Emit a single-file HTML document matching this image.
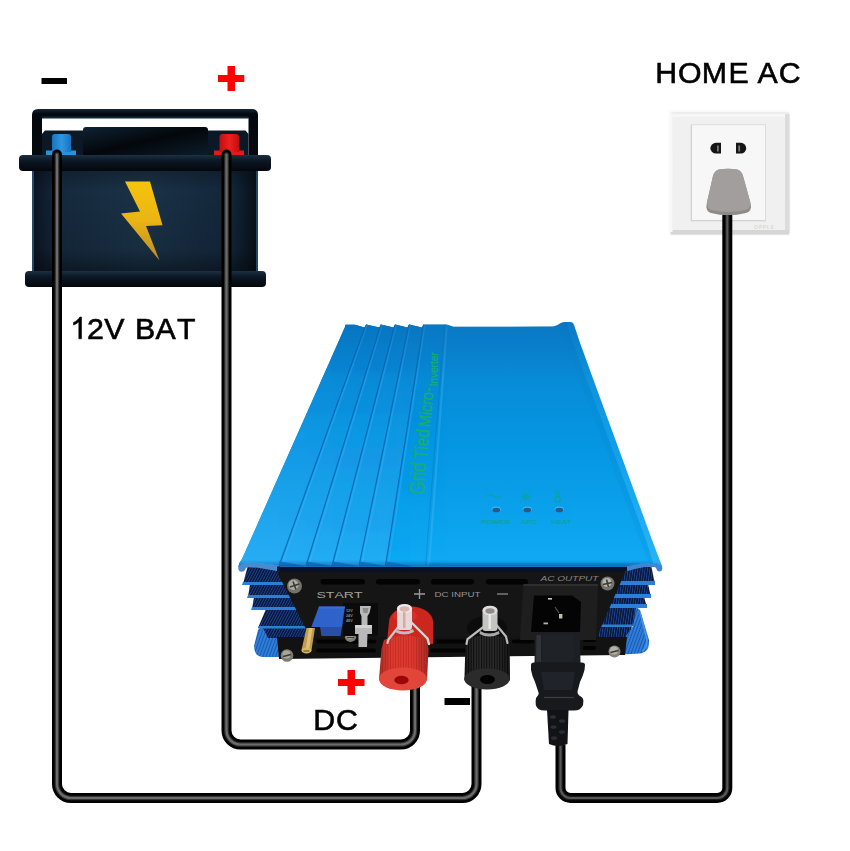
<!DOCTYPE html>
<html>
<head>
<meta charset="utf-8">
<title>Grid Tied Micro-Inverter Wiring</title>
<style>
html,body{margin:0;padding:0;background:#fff;}
body{width:850px;height:851px;overflow:hidden;font-family:"Liberation Sans",sans-serif;}
svg{display:block;}
text{font-family:"Liberation Sans",sans-serif;font-kerning:none;}
</style>
</head>
<body>
<svg width="850" height="851" viewBox="0 0 850 851">
<defs>
  <linearGradient id="batBody" x1="0" y1="0" x2="1" y2="0">
    <stop offset="0" stop-color="#0a1420"/>
    <stop offset="0.12" stop-color="#15293c"/>
    <stop offset="0.5" stop-color="#1a3247"/>
    <stop offset="0.88" stop-color="#13263a"/>
    <stop offset="1" stop-color="#070e17"/>
  </linearGradient>
  <linearGradient id="batShade" x1="0" y1="0" x2="0" y2="1">
    <stop offset="0" stop-color="#000" stop-opacity="0.35"/>
    <stop offset="0.25" stop-color="#000" stop-opacity="0"/>
    <stop offset="0.75" stop-color="#000" stop-opacity="0.1"/>
    <stop offset="1" stop-color="#000" stop-opacity="0.55"/>
  </linearGradient>
  <linearGradient id="flange" x1="0" y1="0" x2="0" y2="1">
    <stop offset="0" stop-color="#1b3145"/>
    <stop offset="0.35" stop-color="#0c1824"/>
    <stop offset="1" stop-color="#03070c"/>
  </linearGradient>
  <linearGradient id="bolt" x1="0" y1="0" x2="0" y2="1">
    <stop offset="0" stop-color="#f6c40c"/>
    <stop offset="0.5" stop-color="#eab414"/>
    <stop offset="1" stop-color="#b98a2a"/>
  </linearGradient>
  <linearGradient id="lid" x1="0" y1="0" x2="0" y2="1">
    <stop offset="0" stop-color="#0a82ce"/>
    <stop offset="0.5" stop-color="#0596e2"/>
    <stop offset="1" stop-color="#10aaf3"/>
  </linearGradient>
  <linearGradient id="strip" x1="0" y1="0" x2="0" y2="1">
    <stop offset="0" stop-color="#0a7eca"/>
    <stop offset="0.45" stop-color="#1198e3"/>
    <stop offset="1" stop-color="#27adf4"/>
  </linearGradient>
  <linearGradient id="lidEdge" x1="0" y1="0" x2="0" y2="1">
    <stop offset="0" stop-color="#0a5fb0" stop-opacity="0"/>
    <stop offset="1" stop-color="#0a4f9c" stop-opacity="0.75"/>
  </linearGradient>
  <linearGradient id="lidTop" x1="0" y1="0" x2="0" y2="1">
    <stop offset="0" stop-color="#0a6cb8" stop-opacity="0.5"/>
    <stop offset="1" stop-color="#0a6cb8" stop-opacity="0"/>
  </linearGradient>
  <linearGradient id="redKnob" x1="0" y1="0" x2="1" y2="0">
    <stop offset="0" stop-color="#b81c16"/>
    <stop offset="0.25" stop-color="#d8302a"/>
    <stop offset="0.6" stop-color="#d42a22"/>
    <stop offset="1" stop-color="#a81410"/>
  </linearGradient>
  <linearGradient id="blkKnob" x1="0" y1="0" x2="1" y2="0">
    <stop offset="0" stop-color="#0c0c0c"/>
    <stop offset="0.3" stop-color="#2a2a2a"/>
    <stop offset="0.6" stop-color="#1c1c1c"/>
    <stop offset="1" stop-color="#080808"/>
  </linearGradient>
  <linearGradient id="handle" x1="0" y1="0" x2="0" y2="1">
    <stop offset="0" stop-color="#15293a"/>
    <stop offset="0.1" stop-color="#03080d"/>
    <stop offset="1" stop-color="#050b12"/>
  </linearGradient>
  <linearGradient id="cblock" x1="0" y1="0" x2="1" y2="1">
    <stop offset="0" stop-color="#0f2233"/>
    <stop offset="0.5" stop-color="#03070b"/>
    <stop offset="1" stop-color="#0c1c2b"/>
  </linearGradient>
  <linearGradient id="tBlue" x1="0" y1="0" x2="1" y2="0">
    <stop offset="0" stop-color="#1673c0"/>
    <stop offset="0.5" stop-color="#2e96e0"/>
    <stop offset="1" stop-color="#1673c0"/>
  </linearGradient>
  <linearGradient id="tRed" x1="0" y1="0" x2="1" y2="0">
    <stop offset="0" stop-color="#c01010"/>
    <stop offset="0.5" stop-color="#ee1f1f"/>
    <stop offset="1" stop-color="#c01010"/>
  </linearGradient>
  <linearGradient id="oFrame" x1="0" y1="0" x2="0" y2="1">
    <stop offset="0" stop-color="#ededed"/>
    <stop offset="0.5" stop-color="#f1f1f1"/>
    <stop offset="1" stop-color="#e9e9e9"/>
  </linearGradient>
  <pattern id="finTexL" width="2.400" height="2.400" patternUnits="userSpaceOnUse" patternTransform="rotate(28)">
    <rect width="2.400" height="2.400" fill="#081638"/>
    <rect width="0.900" height="2.400" fill="#1d4596"/>
  </pattern>
  <pattern id="finTexR" width="2.400" height="2.400" patternUnits="userSpaceOnUse" patternTransform="rotate(8)">
    <rect width="2.400" height="2.400" fill="#081638"/>
    <rect width="0.900" height="2.400" fill="#1d4596"/>
  </pattern>
  <pattern id="knurlR" width="2.600" height="4" patternUnits="userSpaceOnUse">
    <rect width="2.600" height="4" fill="#dc3a30"/>
    <rect width="0.900" height="4" fill="#c52a22"/>
  </pattern>
  <pattern id="knurlB" width="2.600" height="4" patternUnits="userSpaceOnUse">
    <rect width="2.600" height="4" fill="#2c2c2c"/>
    <rect width="1.100" height="4" fill="#0e0e0e"/>
  </pattern>
  <linearGradient id="knobShade" x1="0" y1="0" x2="1" y2="0">
    <stop offset="0" stop-color="#000" stop-opacity="0.35"/>
    <stop offset="0.25" stop-color="#000" stop-opacity="0"/>
    <stop offset="0.7" stop-color="#000" stop-opacity="0"/>
    <stop offset="1" stop-color="#000" stop-opacity="0.4"/>
  </linearGradient>
  <linearGradient id="edgeHL" gradientUnits="userSpaceOnUse" x1="0" y1="330" x2="0" y2="566">
    <stop offset="0" stop-color="#35b4f7" stop-opacity="0.05"/>
    <stop offset="0.5" stop-color="#35b4f7" stop-opacity="0.3"/>
    <stop offset="1" stop-color="#3ab8f9" stop-opacity="0.6"/>
  </linearGradient>
  <pattern id="baseTex" width="3" height="3" patternUnits="userSpaceOnUse" patternTransform="rotate(20)">
    <rect width="3" height="3" fill="#2f7fd8"/>
    <rect width="1" height="3" fill="#1a57b0"/>
  </pattern>
</defs>

<!-- ============ BATTERY ============ -->
<g id="battery">
  <!-- handle -->
  <path d="M32 115 Q32 109 38 109 L252 109 Q258 109 258 115 L258 158 L248.500 158 L248.500 118 L42 118 L42 158 L32 158 Z" fill="url(#handle)"/>
  <rect x="42" y="116.500" width="206.500" height="2" fill="#0d2a3a"/>
  <!-- top section -->
  <path d="M42 134 L45 130.500 L245.500 130.500 L248.500 134 L248.500 156 L42 156 Z" fill="#0b1825"/>
  <path d="M83 130 Q83 127 86 127 L205 127 Q208 127 208 130 L208 155 L83 155 Z" fill="url(#cblock)"/>
  <!-- terminals -->
  <rect x="46" y="150.500" width="30" height="5" fill="#2a92dc"/>
  <path d="M52 137 Q52 134 55 134 L68 134 Q71 134 71 137 L71 152 L52 152 Z" fill="url(#tBlue)"/>
  <rect x="214" y="150.500" width="30" height="5" fill="#e41a1a"/>
  <path d="M219.500 137 Q219.500 134 222.500 134 L236 134 Q239 134 239 137 L239 152 L219.500 152 Z" fill="url(#tRed)"/>
  <!-- body -->
  <rect x="32" y="160" width="226" height="120" fill="url(#batBody)"/>
  <rect x="32" y="160" width="226" height="120" fill="url(#batShade)"/>
  <rect x="32" y="170" width="2" height="102" fill="#2c5878" opacity="0.8"/>
  <rect x="256" y="170" width="2" height="102" fill="#2c5878" opacity="0.8"/>
  <!-- flanges -->
  <rect x="19" y="155" width="252" height="16" rx="4" fill="url(#flange)"/>
  <rect x="25" y="271" width="241" height="16" rx="4" fill="url(#flange)"/>
  <!-- bolt -->
  <path d="M125 181.500 L150 181.500 L162.500 225.300 L146 226 L159.500 260.500 L121 213.500 L140 211.500 Z" fill="url(#bolt)"/>
</g>


<!-- ============ OUTLET ============ -->
<g id="outlet">
  <rect x="668.500" y="110.500" width="122" height="125.500" rx="3" fill="#fafafa"/>
  <rect x="670" y="112" width="119.500" height="122.500" rx="2" fill="url(#oFrame)"/>
  <rect x="672.500" y="116" width="112.500" height="114" fill="#f0f0f0"/>
  <rect x="672.500" y="114" width="112.500" height="3" fill="#f7f7f7"/>
  <rect x="785" y="114" width="4.500" height="119" fill="#dcdcdc"/>
  <rect x="671" y="230" width="118" height="4.500" fill="#d6d6d6"/>
  <rect x="670" y="113" width="2.500" height="119" fill="#f8f8f8"/>
  <rect x="691.300" y="124.700" width="74.200" height="96" fill="#f7f7f7" stroke="#dcdcdc" stroke-width="1"/>
  <path d="M691.300 124.700 V220.700 H765.500" fill="none" stroke="#cfcfcf" stroke-width="1"/>
  <!-- holes -->
  <path d="M716 142.800 a5.600 5.400 0 1 0 0 10.800 h5 v-10.800 z" fill="#151515"/>
  <path d="M741 142.800 a5.200 5.400 0 1 1 0 10.800 h-5 v-10.800 z" fill="#151515"/>
  <rect x="717" y="145.500" width="1.800" height="6" fill="#777"/>
  <rect x="738.300" y="145.500" width="1.800" height="6" fill="#777"/>
  <text x="754" y="229" font-size="5" fill="#d9d9d9" font-weight="bold" textLength="20">OPPLE</text>
  <!-- plug -->
  <path d="M719 169.500 Q728 168.200 737 169.500 Q741.500 170.500 743 176 L750.500 203 Q752.500 211 746 213 Q728 217.500 711 213 Q705 211 706.800 203 L713 176 Q714.500 170.500 719 169.500 Z" fill="#8e8a8a"/>
  <path d="M719 169.500 Q728 168.200 737 169.500 Q741.500 170.500 743 176 L750 201 Q751.500 208.500 745.500 210 Q728 214 711.500 210 Q706 208.500 707.300 201 L713 176 Q714.500 170.500 719 169.500 Z" fill="#a29e9e"/>
</g>


<!-- ============ INVERTER ============ -->
<g id="inverter">
  <!-- side fins left -->
  <g id="finsL">
    <path d="M248 565 L300 565 L300 584 L243 584 Z" fill="url(#finTexL)"/>
    <path d="M250 584 L300 584 L300 597 L248 597 Z" fill="url(#finTexL)"/>
    <path d="M254 597 L300 597 L300 609 L252 609 Z" fill="url(#finTexL)"/>
    <path d="M266 609 L310 609 L310 628 L258 628 Z" fill="url(#finTexL)"/>
    <path d="M262 628 L310 628 L310 640 L266 640 Z" fill="url(#finTexL)"/>
    <path d="M243 582 L300 582 L300 585 L242 585 Z" fill="#2a7fd6"/>
    <path d="M248 595 L300 595 L300 598 L247 598 Z" fill="#2a7fd6"/>
    <path d="M252 607 L300 607 L300 610 L251 610 Z" fill="#2a7fd6"/>
    <path d="M262 626 L258 630 L254 646 Q254 656 262 657 L282 657 L282 638 L268 638 Z" fill="url(#baseTex)"/>
    <path d="M259 626 L310 626 L310 628.500 L258 628.500 Z" fill="#2a7fd6"/>
  </g>
  <!-- side fins right -->
  <g id="finsR">
    <path d="M600 565 L651 565 L655 584 L600 584 Z" fill="url(#finTexR)"/>
    <path d="M600 584 L648 584 L651 597 L600 597 Z" fill="url(#finTexR)"/>
    <path d="M600 597 L644 597 L647 607 L600 607 Z" fill="url(#finTexR)"/>
    <path d="M596 607 L636 607 L640 626 L596 626 Z" fill="url(#finTexR)"/>
    <path d="M596 626 L632 626 L629 638 L596 638 Z" fill="url(#finTexR)"/>
    <path d="M600 581 L655 581 L655 585 L600 585 Z" fill="#2a7fd6"/>
    <path d="M600 594 L651 594 L651 598 L600 598 Z" fill="#2a7fd6"/>
    <path d="M600 604 L647 604 L647 608 L600 608 Z" fill="#2a7fd6"/>
    <path d="M636 607 L640 610 L649 640 Q650 652 640 653.500 L622 654.500 L626 636 L633 626 Z" fill="url(#baseTex)"/>
    <path d="M596 624.500 L633 624.500 L632 627 L596 627 Z" fill="#2a7fd6"/>
    <path d="M640 612 L647 640 Q647.500 648 642 651" fill="none" stroke="#4a96e8" stroke-width="1.500"/>
  </g>
  <!-- black front panel -->
  <path d="M275 568 L627 568 L598 634 L598 640 L306 640 L306 629 Z" fill="#151515"/>
  <path d="M277 637 L627 637 L625 655 L279 659 Z" fill="#121212"/>

  <!-- ===== front panel details ===== -->
  <g id="panelDetails">
    <!-- upper slots -->
    <rect x="320.500" y="579" width="44.500" height="5.500" rx="2.700" fill="#030303"/>
    <rect x="376" y="579" width="44" height="5.500" rx="2.700" fill="#030303"/>
    <rect x="431" y="579" width="43" height="5.500" rx="2.700" fill="#030303"/>
    <rect x="486" y="579" width="42" height="5.500" rx="2.700" fill="#030303"/>
    <!-- lower slots -->
    <rect x="316" y="639.500" width="60" height="4" rx="2" fill="#030303"/>
    <rect x="316" y="648.500" width="60" height="4" rx="2" fill="#030303"/>
    <rect x="430" y="639.500" width="40" height="4" rx="2" fill="#030303"/>
    <rect x="430" y="648.500" width="40" height="4" rx="2" fill="#030303"/>
    <rect x="512" y="639.500" width="22" height="4" rx="2" fill="#030303"/>
    <rect x="583" y="638" width="13" height="4" rx="2" fill="#030303"/>
    <rect x="583" y="646" width="13" height="4" rx="2" fill="#030303"/>
    <!-- labels -->
    <g fill="#a8a8a8" font-size="8.500" opacity="0.96">
      <text x="316.500" y="597.600" textLength="46" lengthAdjust="spacingAndGlyphs">START</text>
      <text x="434.500" y="597.200" font-size="7.500" textLength="46" lengthAdjust="spacingAndGlyphs" fill="#9a9a9a">DC  INPUT</text>
      <text x="540.500" y="580.500" font-size="8" font-style="italic" textLength="58" lengthAdjust="spacingAndGlyphs" fill="#8e8e8e">AC  OUTPUT</text>
    </g>
    <path d="M414 594 h11 M419.500 589 v10" stroke="#9a9a9a" stroke-width="1.300" fill="none"/>
    <path d="M497 594 h11" stroke="#8a8a8a" stroke-width="1.300" fill="none"/>
    <!-- screws -->
    <g>
      <circle cx="294.500" cy="586" r="7.500" fill="#74726a"/><circle cx="293.500" cy="585" r="5" fill="#aeaca2"/><path d="M290 587 l9 -3 M293 581.500 l3 8" stroke="#3c3a34" stroke-width="1.600"/>
      <circle cx="287" cy="655.500" r="6.300" fill="#7d7b72"/><circle cx="286.500" cy="654.500" r="4" fill="#a9a79c"/><path d="M283 656.500 l8 -2" stroke="#3c3a34" stroke-width="1.500"/>
      <circle cx="607.500" cy="583.500" r="7" fill="#74726a"/><circle cx="607" cy="582.500" r="4.600" fill="#b8b6ac"/><path d="M603 584.500 l9 -2 M606.500 579.500 l2 7.500" stroke="#3c3a34" stroke-width="1.600"/>
      <circle cx="614.500" cy="651.500" r="6" fill="#85837a"/><circle cx="614" cy="650.500" r="4" fill="#b5b3a8"/><path d="M610.500 652.500 l8 -2" stroke="#3c3a34" stroke-width="1.500"/>
      <ellipse cx="350.500" cy="637.300" rx="5.600" ry="4.600" fill="#807c70"/><ellipse cx="350" cy="636.500" rx="3.600" ry="2.800" fill="#b4b0a2"/><path d="M347 637.500 h7" stroke="#3c3a34" stroke-width="1.300"/>
    </g>
    <!-- dark component block w/ faint text -->
    <rect x="343" y="603" width="35" height="33" fill="#0b0b0b"/>
    <g fill="#8c8c8c" font-size="3.800" font-weight="bold"><text x="346" y="612">12V</text><text x="346" y="617">24V</text><text x="346" y="622">48V</text></g>
    <!-- potentiometer (blue) -->
    <path d="M319 606.500 L345 606.500 L342 627 L311.300 627 Z" fill="#2f63cb"/>
    <path d="M345 606.500 L342 627 L340.500 636 L343.500 615 Z" fill="#1d3f8e"/>
    <path d="M320 627 L342 627 L340.500 636 L321.500 636 Z" fill="#274fa6"/>
    <path d="M319 606.500 L345 606.500 L344.700 608.500 L318.300 608.500 Z" fill="#3b72dc" opacity="0.7"/>
    <!-- brass screw -->
    <path d="M306.500 628 L315 628 L311.500 650 Q307 654 301.500 650 Z" fill="#c29c4e"/>
    <path d="M309 628 L312.500 628 L309 650 L305.500 650 Z" fill="#e6cd8a" opacity="0.75"/>
    <ellipse cx="306.500" cy="650.500" rx="5" ry="3" fill="#d9b864"/>
    <path d="M303.500 651 h6" stroke="#6f5520" stroke-width="1.100"/>
    <!-- grey plastic clip -->
    <path d="M360 606 L371 606 L369.500 613 L367.500 616 L367.500 625 L372 625 L372 634 L367.500 634 L367 647 L358.500 647 L358.500 634 L355 634 L355 625 L361.500 625 L361.500 616 L360 613 Z" fill="#b9b9b9"/>
    <path d="M362.500 608 h6 l-1 5 h-4 z" fill="#8c8c8c"/>
    <path d="M355 625 h17 v3 h-17 z" fill="#d2d2d2"/>
    <!-- AC socket -->
    <path d="M523.500 584 L598 584 L596 640 L520 640 Z" fill="#1e1e1e"/>
    <path d="M523.500 584 L598 584 L597.800 586 L523.300 586 Z" fill="#2e2e2e"/>
    <path d="M534 595.500 L572 595.500 L581 602 L580 632 L531 632 Z" fill="#040404"/>
    <rect x="548" y="598" width="4" height="1.600" fill="#c9c9c0"/>
    <rect x="559" y="614" width="3.400" height="4.500" fill="#bdbdb2"/>
    <rect x="543.500" y="622.500" width="4.500" height="1.800" fill="#b4b4aa"/>
    <path d="M555 607 l4 6" stroke="#555" stroke-width="1.200"/>
  </g>
  <!-- lid -->
  <path d="M238.300 567 Q239 563.500 246 562.300 L258 562.800 L279.500 565.300 L279.500 571.500 L258 567.800 L248 567.300 Q245.500 567.500 245 570 Q244.500 571.800 241.500 571.800 Q238 571.800 238.300 567 Z" fill="#4a8ad0"/>
  <path d="M625 566.300 Q635 563.500 645 562.600 L657.500 563 L662 565.800 L662.300 569 Q662 571.500 659.500 571.500 Q657 571.500 656.500 569 Q656 567 654 567 L645 567 Q636 568 626 571.500 L625 571.500 Z" fill="#3f86d2"/>
  <path d="M277 566.500 L627 566.500 L627 571.500 L277 571.500 Z" fill="#07112a"/>
  <path id="lidShape" d="M345 327 L345 325.500 Q345 324.800 346 324.800 L355 324.800 L364.500 327.600 L366.200 324.500 L379.400 327.600 L380.800 324.500 L393.500 327.600 L395 324.500 L407.500 327.600 L409 324.500 L421.800 327.600 L423.500 324.500 L446.500 324.500 L453.500 326.800 L553 326.500 Q558 325.500 560 323.500 Q562 322 565 322 L570 322 Q573 322 574 325 L580 343 L652 540 L661.800 566 L657.500 563.500 L645 563 Q635 564 625 566.800 L281 566.800 L279.500 565.500 L258 563 L246 562.500 Q241 563.500 238.300 567 Q238.500 563 242 559 Z" fill="url(#lid)"/>

  <clipPath id="lidClip"><use href="#lidShape"/></clipPath>
  <g clip-path="url(#lidClip)">
    <path d="M345 323 L366 323 L279 567 L237 567 Z" fill="url(#strip)"/>
    <path d="M366 323 L381 323 L306 567 L279 567 Z" fill="url(#strip)"/>
    <path d="M381 323 L395 323 L332 567 L306 567 Z" fill="url(#strip)"/>
    <path d="M395 323 L409 323 L359 567 L332 567 Z" fill="url(#strip)"/>
    <path d="M409 323 L423.5 323 L385.5 567 L359 567 Z" fill="url(#strip)"/>
    <path d="M366 324 L279 566" stroke="#0768b6" stroke-width="1.200" opacity="0.9"/>
    <path d="M367.5 324 L281.5 566" stroke="#4ab6f5" stroke-width="1.500" opacity="0.35"/>
    <path d="M381 324 L306 566" stroke="#0768b6" stroke-width="1.200" opacity="0.9"/>
    <path d="M382.5 324 L308.5 566" stroke="#4ab6f5" stroke-width="1.500" opacity="0.35"/>
    <path d="M395 324 L332 566" stroke="#0768b6" stroke-width="1.200" opacity="0.9"/>
    <path d="M396.5 324 L334.5 566" stroke="#4ab6f5" stroke-width="1.500" opacity="0.35"/>
    <path d="M409 324 L359 566" stroke="#0768b6" stroke-width="1.200" opacity="0.9"/>
    <path d="M410.5 324 L361.5 566" stroke="#4ab6f5" stroke-width="1.500" opacity="0.35"/>
    <path d="M423.5 324 L385.5 566" stroke="#0768b6" stroke-width="1.200" opacity="0.9"/>
    <path d="M425.0 324 L388.0 566" stroke="#4ab6f5" stroke-width="1.500" opacity="0.35"/>
    <path d="M447 324 L429 566" stroke="#5bbcf7" stroke-width="2" opacity="0.30"/>
    <path d="M444.500 324 L425.500 566" stroke="#0768b6" stroke-width="1" opacity="0.35"/>
    <path d="M279 561.500 Q289 562.500 305 566 L305 567 L279 567 Z" fill="#1577c8"/>
    <path d="M306 561.500 Q316 562.500 332 566 L332 567 L306 567 Z" fill="#1577c8"/>
    <path d="M332 561.500 Q342 562.500 358 566 L358 567 L332 567 Z" fill="#1577c8"/>
    <path d="M359 561.500 Q369 562.500 385 566 L385 567 L359 567 Z" fill="#1577c8"/>
    <path d="M385.5 561.500 Q395.5 562.500 411.5 566 L411.5 567 L385.5 567 Z" fill="#1577c8"/>
    <path d="M429 563 L640 563 L640 567 L429 567 Z" fill="#1683d4" opacity="0.6"/>
    <!-- bottom edge shading -->
    <rect x="230" y="560" width="440" height="8" fill="url(#lidEdge)"/>
    <!-- top shading -->
    <rect x="330" y="320" width="260" height="60" fill="url(#lidTop)"/>
    <path d="M566 322 L574 322 L580 343 L652 540 L662 566 L654 566 L646 540 L573 343 Z" fill="url(#edgeHL)"/>
    <path d="M556 326 L562 322 L566 322 L573 343 L646 540 L654 566 L650 566 L640 540 L566 343 Z" fill="#0a78c6" opacity="0.12"/>
    <!-- text -->
    <g fill="#19b06c" stroke="#19b06c" stroke-width="0.300" opacity="0.92">
      <text transform="translate(423.700 495) rotate(-86.500) scale(0.790 1)" font-size="21.800">Grid</text>
      <text transform="translate(426.700 459.500) rotate(-85) scale(0.820 1)" font-size="18.700">Tied</text>
      <text transform="translate(430 427.500) rotate(-84.500) scale(0.830 1)" font-size="17.300">Micro-</text>
      <text transform="translate(437.200 386.500) rotate(-88.500) scale(0.870 1)" font-size="11.600">Inverter</text>
    </g>
    <!-- LEDs -->
    <g fill="#0fa37c" opacity="0.75">
      <ellipse cx="496.300" cy="509.200" rx="4.600" ry="2.800" fill="#45c2fb"/>
      <ellipse cx="527.300" cy="509.200" rx="4.600" ry="2.800" fill="#45c2fb"/>
      <ellipse cx="559.300" cy="509.200" rx="4.600" ry="2.800" fill="#45c2fb"/>
      <ellipse cx="496.300" cy="510" rx="3.900" ry="2.300" fill="#34406a"/>
      <ellipse cx="527.300" cy="510" rx="3.900" ry="2.300" fill="#3a3f62"/>
      <ellipse cx="559.300" cy="510" rx="3.900" ry="2.300" fill="#34406a"/>
      <text x="481" y="523.500" font-size="5.500" font-weight="bold" textLength="29" lengthAdjust="spacingAndGlyphs">POWER</text>
      <text x="520.700" y="523.500" font-size="5.500" font-weight="bold" textLength="16.300" lengthAdjust="spacingAndGlyphs">APC</text>
      <text x="551.300" y="523.500" font-size="5.500" font-weight="bold" textLength="20.300" lengthAdjust="spacingAndGlyphs">HEAT</text>
      <path d="M486 496.500 q3.500 -3.500 7.500 -0.500 t8 0.500" fill="none" stroke="#0fa37c" stroke-width="1"/>
      <circle cx="525.600" cy="496.800" r="2.600" fill="none" stroke="#0fa37c" stroke-width="1"/>
      <path d="M525.600 490.500 v12.600 M519.300 496.800 h12.600 M521.200 492.400 l8.800 8.800 M530 492.400 l-8.800 8.800" stroke="#0fa37c" stroke-width="0.600" fill="none"/>
      <path d="M556 492 q1.500 -1 3 0 v5" stroke="#0fa37c" stroke-width="1" fill="none"/>
      <path d="M556 492 v5" stroke="#0fa37c" stroke-width="1" fill="none"/>
      <circle cx="557.500" cy="499.500" r="2.700" fill="none" stroke="#0fa37c" stroke-width="1.100"/>
    </g>
  </g>
</g>

<!-- ============ WIRES ============ -->
<g id="wires" fill="none" stroke-linejoin="round" stroke-linecap="round">
  <path d="M57 154.500 L57 784 A14 14 0 0 0 71 798 L462.5 798 A14 14 0 0 0 476.500 784 L476.500 686" stroke="#000" stroke-width="10"/>
  <path d="M57 154.500 L57 784 A14 14 0 0 0 71 798 L462.5 798 A14 14 0 0 0 476.500 784 L476.500 686" stroke="#333" stroke-width="4.600"/>
  <path d="M57 154.500 L57 784 A14 14 0 0 0 71 798 L462.5 798 A14 14 0 0 0 476.500 784 L476.500 686" stroke="#6b6b6b" stroke-width="2.200"/>
  <path d="M226.500 154.500 L226.500 730.5 A14 14 0 0 0 240.5 744.500 L401 744.500 A14 14 0 0 0 415 730.5 L415 686" stroke="#000" stroke-width="10"/>
  <path d="M226.500 154.500 L226.500 730.5 A14 14 0 0 0 240.5 744.500 L401 744.500 A14 14 0 0 0 415 730.5 L415 686" stroke="#333" stroke-width="4.600"/>
  <path d="M226.500 154.500 L226.500 730.5 A14 14 0 0 0 240.5 744.500 L401 744.500 A14 14 0 0 0 415 730.5 L415 686" stroke="#6b6b6b" stroke-width="2.200"/>
</g>
<g id="wiresAC" fill="none" stroke-linejoin="round">
  <path d="M727.300 215 L727.300 788 A10 10 0 0 1 717.3 798 L570.5 798 A10 10 0 0 1 560.500 788 L560.500 745" stroke="#000" stroke-width="10"/>
  <path d="M727.300 215 L727.300 788 A10 10 0 0 1 717.3 798 L570.5 798 A10 10 0 0 1 560.500 788 L560.500 745" stroke="#1c1c1c" stroke-width="4.600"/>
  <path d="M727.300 215 L727.300 788 A10 10 0 0 1 717.3 798 L570.5 798 A10 10 0 0 1 560.500 788 L560.500 745" stroke="#565656" stroke-width="2.200"/>
</g>


<!-- ============ BINDING POSTS ============ -->
<g id="redPost">
  <ellipse cx="411" cy="622" rx="22" ry="15.500" fill="#cc261e"/>
  <path d="M389 622 L387 642 L433 644 L433 622 Z" fill="#cc261e"/>
  <ellipse cx="405" cy="616" rx="12" ry="6" fill="#d63a30" opacity="0.6"/>
  <!-- knob -->
  <path d="M384 640 Q405 631 427 640 L428.500 649 L427 680 Q403 695 379 680 L381.500 649 Z" fill="url(#knurlR)"/>
  <path d="M384 640 Q405 631 427 640 L428.500 649 L427 680 Q403 695 379 680 L381.500 649 Z" fill="url(#knobShade)" opacity="0.6"/>
  <ellipse cx="403" cy="679" rx="24" ry="11.500" fill="#e2463a"/>
  <ellipse cx="401.500" cy="680" rx="7.200" ry="4.300" fill="#9c0606"/>
  <!-- clip -->
  <path d="M399 626 L388.500 639.500 L387.500 643" fill="none" stroke="#cfcfcf" stroke-width="2.200" stroke-linecap="round"/>
  <path d="M411.500 622.500 L427.500 638.500 L429 644" fill="none" stroke="#d6d6d6" stroke-width="2.400" stroke-linecap="round"/>
  <path d="M396 629 Q404 634 413 629 L414 632 Q404 637 395 632 Z" fill="#bdbdbd"/>
  <!-- metal tube -->
  <rect x="397" y="607" width="15" height="23" rx="3" fill="#e2d9d8"/>
  <ellipse cx="404.500" cy="608.500" rx="7.600" ry="4.600" fill="#efe9e8"/>
  <ellipse cx="404.500" cy="609" rx="5" ry="2.800" fill="#d9b4b0"/>
  <rect x="403" y="612" width="2.400" height="16" fill="#e58c84" opacity="0.7"/>
</g>
<g id="blackPost">
  <ellipse cx="487" cy="628" rx="20" ry="12" fill="#0c0c0c"/>
  <!-- knob -->
  <path d="M465.500 640 Q487 630 509.500 640 L510 680 Q487 694 464.500 680 Z" fill="url(#knurlB)"/>
  <path d="M465.500 640 Q487 630 509.500 640 L510 680 Q487 694 464.500 680 Z" fill="url(#knobShade)"/>
  <ellipse cx="487" cy="679" rx="22.800" ry="10.500" fill="#2b2b2b"/>
  <ellipse cx="487.500" cy="679.500" rx="7.500" ry="4.500" fill="#020202"/>
  <!-- clip -->
  <path d="M484 626.500 L467.500 639 L466.500 644" fill="none" stroke="#bdbdbd" stroke-width="2.200" stroke-linecap="round"/>
  <path d="M496.500 625 L506 636.500 L507.500 643" fill="none" stroke="#b9b9b9" stroke-width="2.200" stroke-linecap="round"/>
  <path d="M480 631 Q489 636 499 631 L499.500 634 Q489 639 479.500 634 Z" fill="#a8a8a8"/>
  <!-- metal tube -->
  <rect x="482.500" y="609" width="15" height="22" rx="3" fill="#c4c4c2"/>
  <ellipse cx="490" cy="610.500" rx="7.600" ry="4.800" fill="#dedddb"/>
  <ellipse cx="490" cy="611" rx="4.600" ry="2.800" fill="#8d8d8a"/>
  <rect x="488.500" y="614" width="2.400" height="15" fill="#f1f1f1" opacity="0.8"/>
</g>

<!-- ============ IEC PLUG ============ -->
<g id="iecPlug">
  <path d="M535 636 Q535 633 538 633 L577 633 Q580 633 580 636 L580.500 664 L534.500 664 Z" fill="#1c1f24"/>
  <path d="M543 635 L573 635 L574 662 L542 662 Z" fill="#1f2227"/>
  <path d="M536.500 635 L541 635 L541 662 L536 662 Z" fill="#30343a"/>
  <path d="M531 665 Q531 662.500 534 662.500 L582 662.500 Q585 662.500 585 665 L584.500 670 Q583 676 580 682 L577.600 691 Q577 694 580 696 Q583.400 697.500 583.400 701 L583 705 Q581 710.500 574 710.500 L545 710.500 Q537 710.500 535.800 705 L535.600 701 Q535.600 697.500 537.500 696 Q539.500 694 538 691 L535 682 Q532 676 531 670 Z" fill="#17191d"/>
  <path d="M541 672 L575 672 L572 690 L544 690 Z" fill="#202329"/>
  <path d="M544 697.500 h30" stroke="#4b4f55" stroke-width="1.200" opacity="0.7"/>
  <path d="M547 710 L568.500 710 L567.500 744 Q558 748 549 744 Z" fill="#121316"/>
  <g fill="#2b2e33"><ellipse cx="553" cy="717" rx="3" ry="1.800"/><ellipse cx="562" cy="721" rx="3" ry="1.800"/><ellipse cx="553.500" cy="727" rx="3" ry="1.800"/><ellipse cx="562" cy="732" rx="3" ry="1.800"/><ellipse cx="554" cy="738" rx="3" ry="1.800"/></g>
</g>

<!-- ============ LABELS ============ -->
<g id="labels" opacity="0.999">
<rect x="41.500" y="78" width="25.500" height="6" fill="#000"/>
<path d="M227.500 66 h7.500 v9 h9.300 v7 h-9.300 v9 h-7.500 v-9 h-9.500 v-7 h9.500 z" fill="#f00"/>
<path d="M763 0H583V1147Q518 1085 412.500 1023Q307 961 223 930V1104Q374 1175 487 1276Q600 1377 647 1472H763Z" transform="translate(70.200 338.800) scale(0.014795 -0.014795)" fill="#000" stroke="#000" stroke-width="40"/>
<text id="tBat" x="87.050 104.300 124.500 134.900 155.500 176.950" y="338.800" font-size="30.300" stroke="#000" stroke-width="0.600">2V BAT</text>
<text id="tHome" x="655.200 678.100 701.700 728.400 748 757.500 778.800" y="83" font-size="30.300" stroke="#000" stroke-width="0.600">HOME AC</text>
<text id="tDC" x="313.300 336" y="730.200" font-size="30.300" stroke="#000" stroke-width="0.600">DC</text>
<path d="M347.500 670 h7.500 v9 h9.500 v7 h-9.500 v9 h-7.500 v-9 h-9.500 v-7 h9.500 z" fill="#f00"/>
<rect x="444.500" y="698" width="25.500" height="7" fill="#000"/>
</g>

</svg>
</body>
</html>
